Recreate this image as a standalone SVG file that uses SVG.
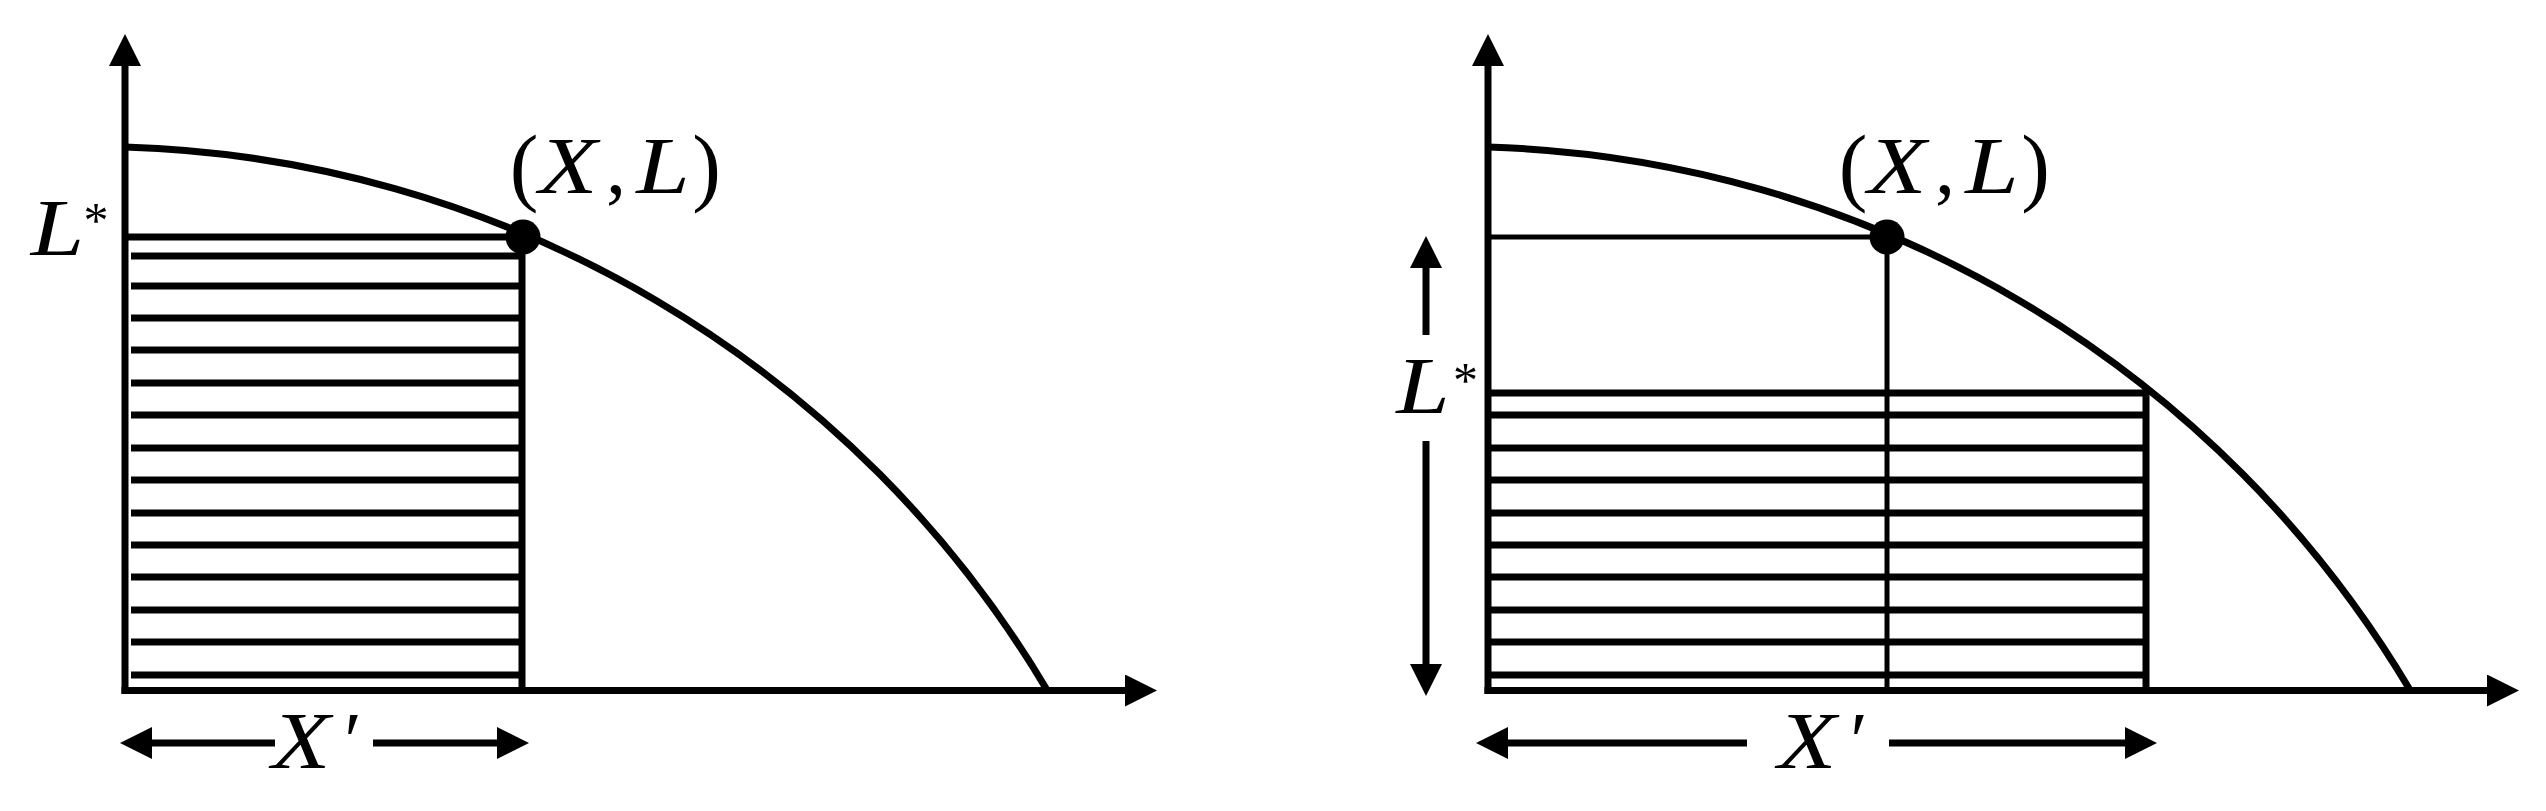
<svg xmlns="http://www.w3.org/2000/svg" xmlns:xlink="http://www.w3.org/1999/xlink" width="2546" height="811" viewBox="0 0 2546 811">
<style>
.thick{stroke:#000;stroke-width:7;fill:none}
.thin{stroke:#000;stroke-width:5;fill:none}
.curve{stroke:#000;stroke-width:7;fill:none}
.arr{stroke:#000;stroke-width:7;fill:none;marker-end:url(#ah)}
.lbl{font-family:"Liberation Serif","DejaVu Serif",serif;font-size:80px;fill:#000;text-anchor:middle}
.it{font-style:italic}
.par{font-size:86px}
.ast{font-size:50px}
</style>
<defs>
<marker id="ah" viewBox="0 0 32 32" markerWidth="32" markerHeight="32" refX="0" refY="16" orient="auto" markerUnits="userSpaceOnUse">
<path d="M0,0 L32,16 L0,32 z" fill="#000"/>
</marker>
<path id="ppf" d="M125,147 A1110.7,1110.7 0 0 1 1047,690"/>
</defs>
<rect width="2546" height="811" fill="#fff"/>

<g id="left-panel">
<g id="left-hatch">
<line class="thick" x1="125" y1="237" x2="523" y2="237"/>
<g class="thick">
<line x1="131" y1="256" x2="522" y2="256"/>
<line x1="131" y1="286" x2="522" y2="286"/>
<line x1="131" y1="318" x2="522" y2="318"/>
<line x1="131" y1="350" x2="522" y2="350"/>
<line x1="131" y1="383" x2="522" y2="383"/>
<line x1="131" y1="415" x2="522" y2="415"/>
<line x1="131" y1="448" x2="522" y2="448"/>
<line x1="131" y1="480" x2="522" y2="480"/>
<line x1="131" y1="513" x2="522" y2="513"/>
<line x1="131" y1="545" x2="522" y2="545"/>
<line x1="131" y1="577" x2="522" y2="577"/>
<line x1="131" y1="610" x2="522" y2="610"/>
<line x1="131" y1="642" x2="522" y2="642"/>
<line x1="131" y1="675" x2="522" y2="675"/>
</g>
<line class="thick" x1="522" y1="237" x2="522" y2="690"/>
</g>
<g id="left-curve"><use xlink:href="#ppf" href="#ppf" class="curve"/></g>
<g id="left-axes">
<line class="arr" x1="125" y1="694" x2="125" y2="66"/>
<line class="arr" x1="121.5" y1="690.5" x2="1125" y2="690.5"/>
</g>
<g id="left-point"><circle cx="523" cy="237" r="17.5" fill="#000"/></g>
<g id="left-xprime">
<line class="arr" x1="275" y1="743" x2="152" y2="743"/>
<line class="arr" x1="373" y1="743" x2="497" y2="743"/>
<text class="lbl it" transform="translate(301,768) scale(1.2,1)">X</text>
<text class="lbl" x="353" y="768">′</text>
</g>
<g id="left-lstar">
<text class="lbl it" transform="translate(57.5,255) scale(1.2,1)">L</text>
<text class="lbl ast" x="96" y="237">*</text>
</g>
<g id="left-xl">
<text class="lbl par" x="524" y="195">(</text>
<text class="lbl it" transform="translate(568,193) scale(1.2,1)">X</text>
<text class="lbl" x="616" y="193">,</text>
<text class="lbl it" transform="translate(663,193) scale(1.2,1)">L</text>
<text class="lbl par" x="706.5" y="195">)</text>
</g>
</g>

<g id="right-panel">
<g id="right-guides">
<line class="thin" x1="1488" y1="237" x2="1887" y2="237"/>
<line class="thin" x1="1887" y1="237" x2="1887" y2="690"/>
</g>
<g id="right-hatch">
<line class="thick" x1="1488" y1="393" x2="2146" y2="393"/>
<g class="thick">
<line x1="1488" y1="415" x2="2146" y2="415"/>
<line x1="1488" y1="448" x2="2146" y2="448"/>
<line x1="1488" y1="480" x2="2146" y2="480"/>
<line x1="1488" y1="513" x2="2146" y2="513"/>
<line x1="1488" y1="545" x2="2146" y2="545"/>
<line x1="1488" y1="577" x2="2146" y2="577"/>
<line x1="1488" y1="610" x2="2146" y2="610"/>
<line x1="1488" y1="642" x2="2146" y2="642"/>
<line x1="1488" y1="675" x2="2146" y2="675"/>
</g>
<line class="thick" x1="2146" y1="389" x2="2146" y2="690"/>
</g>
<g id="right-curve"><use xlink:href="#ppf" href="#ppf" class="curve" x="1363"/></g>
<g id="right-axes">
<line class="arr" x1="1488" y1="694" x2="1488" y2="66"/>
<line class="arr" x1="1484.5" y1="690.5" x2="2487" y2="690.5"/>
</g>
<g id="right-point"><circle cx="1887" cy="237" r="17.5" fill="#000"/></g>
<g id="right-xprime">
<line class="arr" x1="1747" y1="743" x2="1508" y2="743"/>
<line class="arr" x1="1889" y1="743" x2="2125" y2="743"/>
<text class="lbl it" transform="translate(1807,768) scale(1.2,1)">X</text>
<text class="lbl" x="1859" y="768">′</text>
</g>
<g id="right-lstar">
<line class="arr" x1="1426" y1="335" x2="1426" y2="268"/>
<line class="arr" x1="1426" y1="441" x2="1426" y2="664"/>
<text class="lbl it" transform="translate(1423,413) scale(1.2,1)">L</text>
<text class="lbl ast" x="1465.5" y="397">*</text>
</g>
<g id="right-xl">
<text class="lbl par" x="1853" y="195">(</text>
<text class="lbl it" transform="translate(1897,193) scale(1.2,1)">X</text>
<text class="lbl" x="1945" y="193">,</text>
<text class="lbl it" transform="translate(1992,193) scale(1.2,1)">L</text>
<text class="lbl par" x="2035.5" y="195">)</text>
</g>
</g>
</svg>
